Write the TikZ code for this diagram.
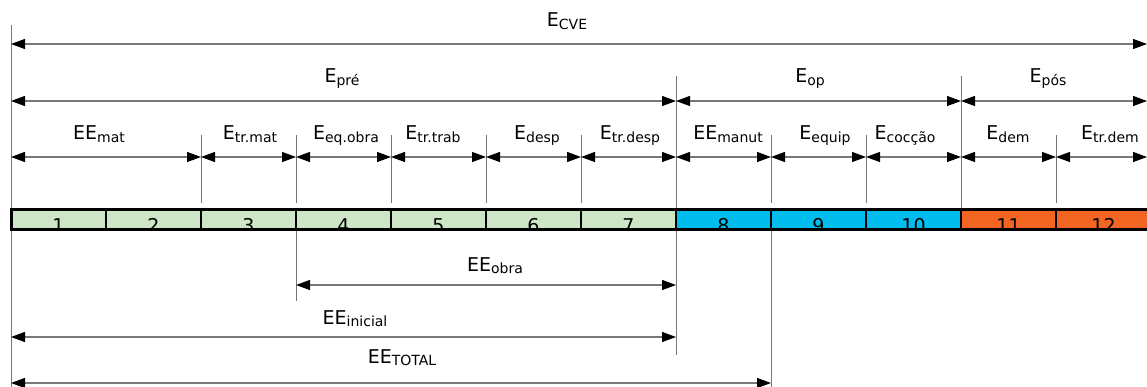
\documentclass[tikz,border=0pt]{standalone}
\usepackage{fontspec}
\setmainfont{DejaVu Sans}
\usetikzlibrary{arrows.meta}
\definecolor{cgreen}{RGB}{205,230,197}
\definecolor{cblue}{RGB}{0,189,238}
\definecolor{corange}{RGB}{242,101,34}
\definecolor{lgray}{RGB}{120,120,120}
\newcommand{\lbl}[2]{#1\raisebox{-2.8pt}{\fontsize{14}{15}\selectfont #2}}
\begin{document}
\begin{tikzpicture}[x=1pt,y=-1pt,
  tip/.tip={Triangle[length=14pt,width=10pt,color=black]},
  dim/.style={draw=lgray, line width=1.1pt, tip-tip},
  tickline/.style={draw=lgray, line width=1pt},
  lab/.style={font=\fontsize{19}{20}\selectfont, inner sep=0pt, anchor=base},
  num/.style={font=\fontsize{19}{20}\selectfont, inner sep=0pt, anchor=base},
  sep/.style={draw=black, line width=2.4pt}]
\useasboundingbox (0,0) rectangle (1147,387);
\clip (0,0) rectangle (1147,387);
% column coordinates
\foreach \i in {0,...,12} {\coordinate (c\i) at ({11+95*\i},0);}
\coordinate (cE) at (1147,0);
% row coordinates
\coordinate (yTopL) at (0,25);
\coordinate (yTopM) at (0,76);
\coordinate (yTopS) at (0,135);
\coordinate (yBotS) at (0,203);
\coordinate (yCVE) at (0,44);
\coordinate (yPh) at (0,101);
\coordinate (ySub) at (0,157);
\coordinate (bt) at (0,210);
\coordinate (bb) at (0,230);
\coordinate (yObra) at (0,285);
\coordinate (yIni) at (0,337);
\coordinate (yTot) at (0,383);
\coordinate (yEndObra) at (0,301);
\coordinate (yEndIni) at (0,355);
\coordinate (yBottom) at (0,387);
% vertical lines above bar
\draw[tickline] (c0 |- yTopL) -- (c0 |- bt);
\foreach \i in {7,10} {\draw[tickline] (c\i |- yTopM) -- (c\i |- bt);}
\foreach \i in {2,3,4,5,6,8,9,11} {\draw[tickline] (c\i |- yTopS) -- (c\i |- yBotS);}
% vertical lines below bar
\draw[tickline] (c0 |- bb) -- (c0 |- yBottom);
\draw[tickline] (c3 |- bb) -- (c3 |- yEndObra);
\draw[tickline] (c7 |- bb) -- (c7 |- yEndIni);
\draw[tickline] (c8 |- bb) -- (c8 |- yBottom);
% top arrows
\draw[dim] (c0 |- yCVE) -- (cE |- yCVE);
\draw[dim] (c0 |- yPh) -- (c7 |- yPh);
\draw[dim] (c7 |- yPh) -- (c10 |- yPh);
\draw[dim] (c10 |- yPh) -- (cE |- yPh);
\draw[dim] (c0 |- ySub) -- (c2 |- ySub);
\foreach \a/\b in {2/3,3/4,4/5,5/6,6/7,7/8,8/9,9/10,10/11} {\draw[dim] (c\a |- ySub) -- (c\b |- ySub);}
\draw[dim] (c11 |- ySub) -- (cE |- ySub);
% bottom arrows
\draw[dim] (c3 |- yObra) -- (c7 |- yObra);
\draw[dim] (c0 |- yIni) -- (c7 |- yIni);
\draw[dim] (c0 |- yTot) -- (c8 |- yTot);
% labels
\node[lab] (lCVE) at (567,27) {\lbl{E}{CVE}};
\node[lab] (lpre) at (342,83) {\lbl{E}{pré}};
\node[lab] (lop) at (810,83) {\lbl{E}{op}};
\node[lab] (lpos) at (1048,83) {\lbl{E}{pós}};
\node[lab] (lmat) at (99,140) {\lbl{EE}{mat}};
\node[lab] (ltrmat) at (250,140) {\lbl{E}{tr.mat}};
\node[lab] (leqobra) at (346,140) {\lbl{E}{eq.obra}};
\node[lab] (ltrtrab) at (433,140) {\lbl{E}{tr.trab}};
\node[lab] (ldesp) at (537,140) {\lbl{E}{desp}};
\node[lab] (ltrdesp) at (630,140) {\lbl{E}{tr.desp}};
\node[lab] (lmanut) at (728,140) {\lbl{EE}{manut}};
\node[lab] (lequip) at (825,140) {\lbl{E}{equip}};
\node[lab] (lcoccao) at (905,140) {\lbl{E}{cocção}};
\node[lab] (ldem) at (1008,140) {\lbl{E}{dem}};
\node[lab] (ltrdem) at (1110,140) {\lbl{E}{tr.dem}};
\node[lab] (lobra) at (495,271) {\lbl{EE}{obra}};
\node[lab] (linicial) at (355,324) {\lbl{EE}{inicial}};
\node[lab] (ltotal) at (402,363) {\lbl{EE}{TOTAL}};
% bar
\fill[cgreen] (c0 |- bt) rectangle (c7 |- bb);
\fill[cblue] (c7 |- bt) rectangle (c10 |- bb);
\fill[corange] (c10 |- bt) rectangle (c12 |- bb);
\begin{scope}
\clip (c0 |- bt) rectangle (c12 |- bb);
\foreach \i in {1,...,12} {
  \node[num] (n\i) at ({11+95*\i-47.5},233) {\i};
}
\end{scope}
\foreach \i in {1,...,11} {\draw[sep] (c\i |- bt) -- (c\i |- bb);}
\draw[draw=black, line width=3pt] (c0 |- bt) rectangle (c12 |- bb);
\end{tikzpicture}
\end{document}
